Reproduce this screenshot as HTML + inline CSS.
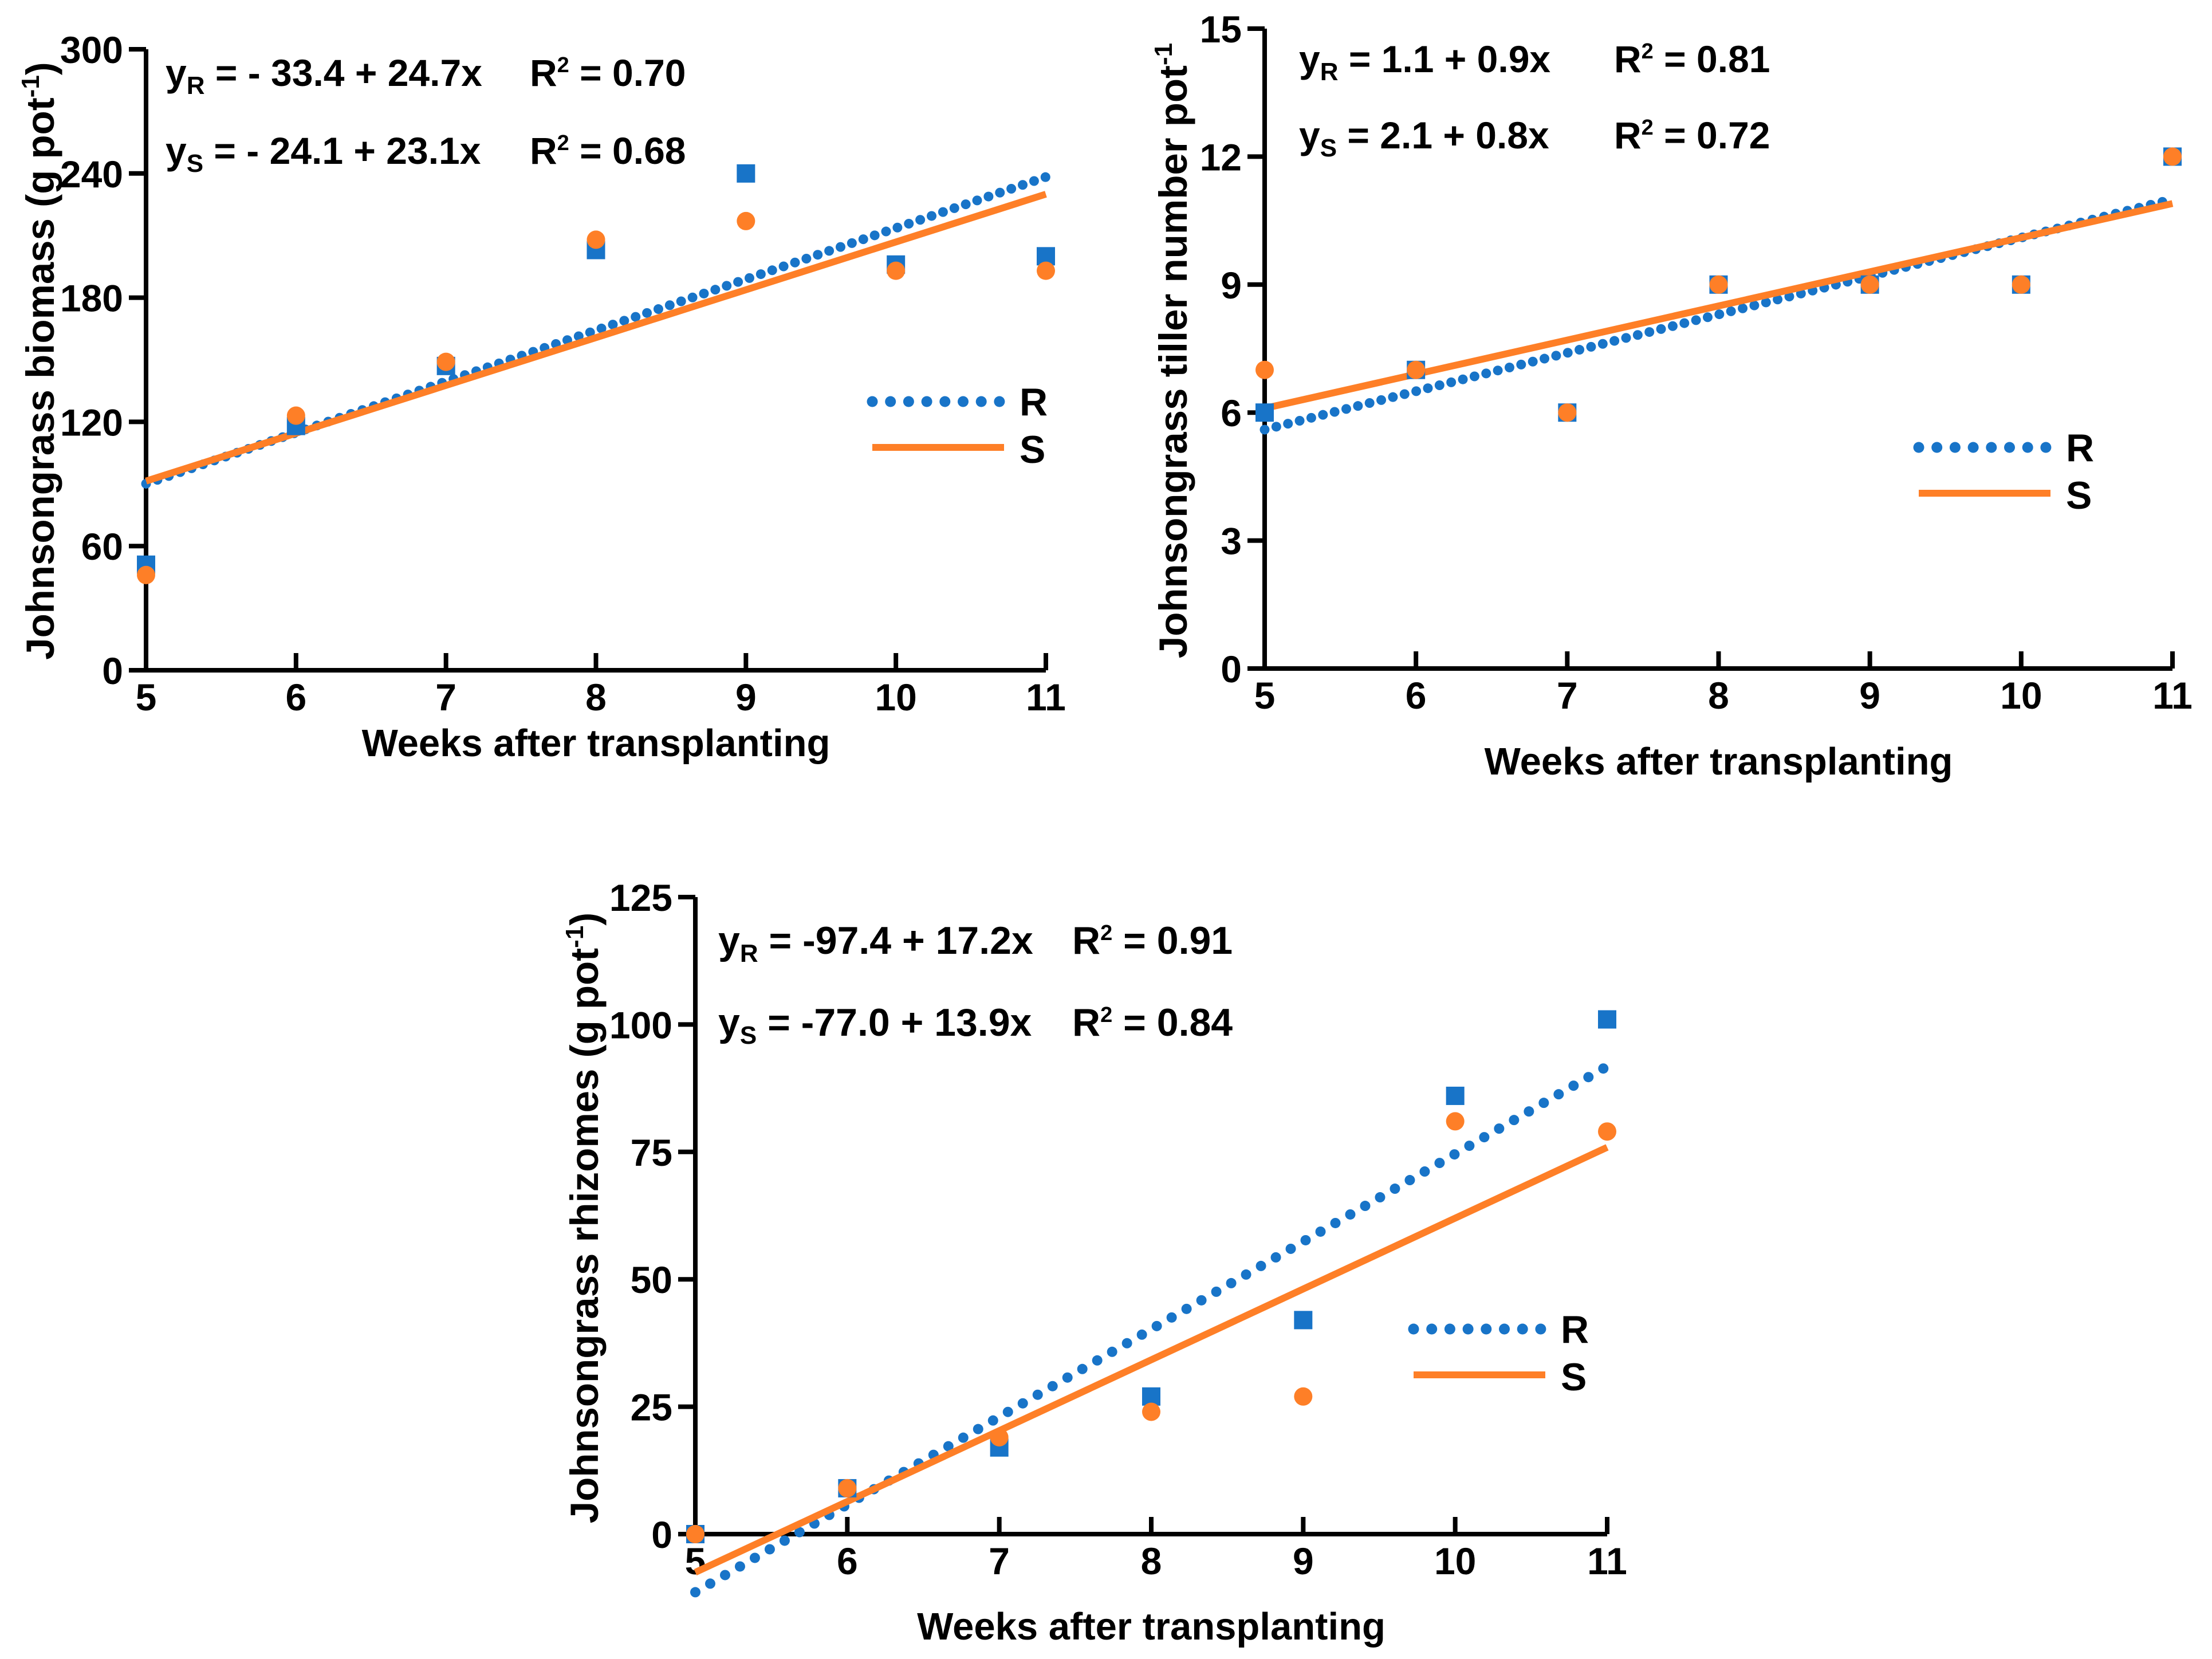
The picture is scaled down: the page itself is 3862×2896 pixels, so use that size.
<!DOCTYPE html>
<html><head><meta charset="utf-8"><style>
html,body{margin:0;padding:0;background:#fff}
svg{display:block}
text{font-family:"Liberation Sans",Arial,sans-serif;font-weight:bold;fill:#000}
</style></head><body>
<svg id="fig" width="3862" height="2896" viewBox="0 0 3862 2896" xmlns="http://www.w3.org/2000/svg"></svg>
<script>
const weeks = [5,6,7,8,9,10,11];
const biomassR = [51,118,147,203,240,196,200];
const biomassS = [46,123,149,208,217,193,193];
const biomassCoefR = [-33.4,24.7];
const biomassCoefS = [-24.1,23.1];
const biomassTicks = [0,60,120,180,240,300];
const tillerR = [6,7,6,9,9,9,12];
const tillerS = [7,7,6,9,9,9,12];
const tillerCoefR = [1.1,0.9];
const tillerCoefS = [2.1,0.8];
const tillerTicks = [0,3,6,9,12,15];
const rhizR = [0,9,17,27,42,86,101];
const rhizS = [0,9,19,24,27,81,79];
const rhizCoefR = [-97.4,17.2];
const rhizCoefS = [-77.0,13.9];
const rhizTicks = [0,25,50,75,100,125];

const NS='http://www.w3.org/2000/svg';
const svg=document.getElementById('fig');
const BLUE='#1874c8', ORANGE='#fe7f27';
function mk(parent,tag,attrs,txt){const e=document.createElementNS(NS,tag);for(const k in attrs)e.setAttribute(k,attrs[k]);if(txt!==undefined)e.textContent=txt;parent.appendChild(e);return e;}

function chart(cfg){
  const g=mk(svg,'g',{});
  
  
  const xS=v=>cfg.x0+(v-5)/6*(cfg.x1-cfg.x0);
  const ymax=cfg.ticks[cfg.ticks.length-1];
  const yS=v=>cfg.y0-v/ymax*(cfg.y0-cfg.y1);
  const ax=mk(g,'path',{d:`M${cfg.x0} ${cfg.y1}V${cfg.y0}H${cfg.x1}`,fill:'none',stroke:'#000','stroke-width':8});
  
  
  cfg.ticks.forEach(t=>{
    const y=yS(t);
    mk(g,'line',{x1:cfg.x0-30,x2:cfg.x0,y1:y,y2:y,stroke:'#000','stroke-width':8});
    const lb=mk(g,'text',{x:cfg.x0-40,y:y+24,'text-anchor':'end','font-size':66},String(t));
    
    
  });
  weeks.forEach(w=>{
    const x=xS(w);
    mk(g,'line',{x1:x,x2:x,y1:cfg.y0,y2:cfg.y0-30,stroke:'#000','stroke-width':8});
    const lb=mk(g,'text',{x:x,y:cfg.y0+70,'text-anchor':'middle','font-size':66},String(w));
    
    
  });
  const lr=mk(g,'line',{x1:xS(5),y1:yS(cfg.cR[0]+cfg.cR[1]*5),x2:xS(11),y2:yS(cfg.cR[0]+cfg.cR[1]*11),stroke:BLUE,'stroke-width':cfg.dw,'stroke-linecap':'round','stroke-dasharray':`0 ${cfg.dg}`});
  
  
  const ls=mk(g,'line',{x1:xS(5),y1:yS(cfg.cS[0]+cfg.cS[1]*5),x2:xS(11),y2:yS(cfg.cS[0]+cfg.cS[1]*11),stroke:ORANGE,'stroke-width':12});
  
  
  cfg.r.forEach((v,i)=>{
    const p=mk(g,'rect',{x:xS(weeks[i])-16,y:yS(v)-16,width:32,height:32,fill:BLUE});
    
    
  });
  cfg.s.forEach((v,i)=>{
    const p=mk(g,'circle',{cx:xS(weeks[i]),cy:yS(v),r:16,fill:ORANGE});
    
    
  });
  const L=cfg.leg;
  const lg=mk(g,'g',{});
  
  
  mk(lg,'line',{x1:L.x,x2:L.x+222,y1:L.y,y2:L.y,stroke:BLUE,'stroke-width':19,'stroke-linecap':'round','stroke-dasharray':'0 31.7'});
  mk(lg,'text',{x:L.x+257,y:L.y+24,'font-size':68},'R');
  mk(lg,'line',{x1:L.x,x2:L.x+230,y1:L.y+80,y2:L.y+80,stroke:ORANGE,'stroke-width':12});
  mk(lg,'text',{x:L.x+257,y:L.y+107,'font-size':68},'S');
  const E=cfg.eq;
  [[E.y1,'R',E.t1,E.r1],[E.y2,'S',E.t2,E.r2]].forEach(([y,sub,t,r])=>{
    const tx=mk(g,'text',{x:E.x,y:y,'font-size':E.fs});
    
    
    mk(tx,'tspan',{},'y');
    mk(tx,'tspan',{'font-size':44,dy:14},sub);
    mk(tx,'tspan',{dy:-14},t);
    const rt=mk(g,'text',{x:E.rx,y:y,'font-size':E.fs});
    
    
    mk(rt,'tspan',{},'R');
    mk(rt,'tspan',{'font-size':38,dy:-24},'2');
    mk(rt,'tspan',{dy:24},' = '+r);
  });
  const xt=mk(g,'text',{x:(cfg.x0+cfg.x1)/2,y:cfg.xty,'text-anchor':'middle','font-size':67},'Weeks after transplanting');
  
  
  const yt=mk(g,'text',{transform:`translate(${cfg.ytx},${cfg.ytc}) rotate(-90)`,'text-anchor':'middle','font-size':69});
  
  
  mk(yt,'tspan',{},cfg.ytitle);
  mk(yt,'tspan',{'font-size':44,dy:-26},'-1');
  mk(yt,'tspan',{dy:26},cfg.ytail);
}

chart({name:'biomass-chart',x0:255,x1:1826,y0:1170,y1:86,ticks:biomassTicks,r:biomassR,s:biomassS,cR:biomassCoefR,cS:biomassCoefS,dw:17,dg:21,
  leg:{x:1523,y:701},eq:{x:289,rx:925,y1:150,y2:286,fs:66,t1:' = - 33.4 + 24.7x',t2:' = - 24.1 + 23.1x',r1:'0.70',r2:'0.68'},
  xty:1320,ytx:94,ytc:630,ytitle:'Johnsongrass biomass (g pot',ytail:')'});
chart({name:'tiller-chart',x0:2208,x1:3793,y0:1167,y1:50,ticks:tillerTicks,r:tillerR,s:tillerS,cR:tillerCoefR,cS:tillerCoefS,dw:17,dg:21,
  leg:{x:3350,y:781},eq:{x:2268,rx:2818,y1:126,y2:259,fs:66,t1:' = 1.1 + 0.9x',t2:' = 2.1 + 0.8x',r1:'0.81',r2:'0.72'},
  xty:1352,ytx:2072,ytc:612,ytitle:'Johnsongrass tiller number pot',ytail:''});
chart({name:'rhizomes-chart',x0:1214,x1:2806,y0:2678,y1:1566,ticks:rhizTicks,r:rhizR,s:rhizS,cR:rhizCoefR,cS:rhizCoefS,dw:18,dg:30,
  leg:{x:2468,y:2320},eq:{x:1254,rx:1872,y1:1665,y2:1808,fs:68,t1:' = -97.4 + 17.2x',t2:' = -77.0 + 13.9x',r1:'0.91',r2:'0.84'},
  xty:2862,ytx:1044,ytc:2126,ytitle:'Johnsongrass rhizomes (g pot',ytail:')'});
</script>
</body></html>
